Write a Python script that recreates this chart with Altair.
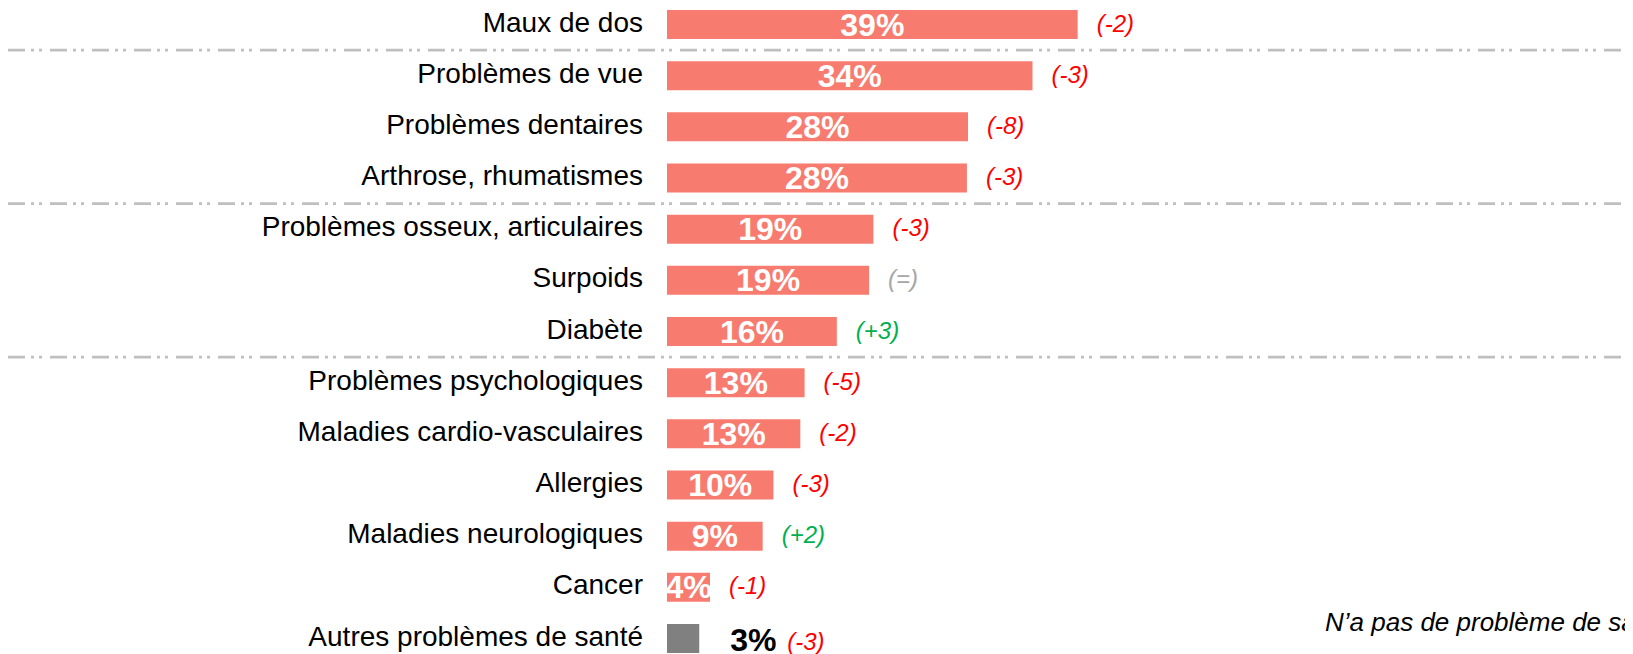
import altair as alt
import pandas as pd

categories = [
    "Maux de dos", "Problèmes de vue", "Problèmes dentaires", "Arthrose, rhumatismes",
    "Problèmes osseux, articulaires", "Surpoids", "Diabète", "Problèmes psychologiques",
    "Maladies cardio-vasculaires", "Allergies", "Maladies neurologiques", "Cancer",
    "Autres problèmes de santé",
]
values = [38.2, 34.0, 28.0, 27.9, 19.2, 18.8, 15.8, 12.8, 12.4, 9.9, 8.9, 4.0, 3.0]
pct_labels = ["39%", "34%", "28%", "28%", "19%", "19%", "16%", "13%", "13%", "10%", "9%", "4%", "3%"]
deltas = ["(-2)", "(-3)", "(-8)", "(-3)", "(-3)", "(=)", "(+3)", "(-5)", "(-2)", "(-3)", "(+2)", "(-1)", "(-3)"]
separator_after = [0, 3, 6]
note_text = ["N\u2019a pas de problème de santé"]

W, H = 1617, 646
FONT = "Liberation Sans"
HALF = 0.2834
PX = 10.75          # pixels per percentage point
X0 = 659            # pixel position of 0 %

def delta_kind(d):
    if "+" in d:
        return "up"
    if "-" in d:
        return "down"
    return "same"

df = pd.DataFrame({
    "cat": categories,
    "value": values,
    "pct": pct_labels,
    "delta": deltas,
})
df["row"] = range(len(df))
df["y0"] = df["row"] - HALF
df["y1"] = df["row"] + HALF
df["zero"] = 0.0
df["half"] = df["value"] / 2
df["kind"] = [delta_kind(d) for d in deltas]
df["group"] = ["main"] * (len(df) - 1) + ["other"]

main = df[df["group"] == "main"]
other = df[df["group"] == "other"]

sep = pd.DataFrame({"pos": [s + 0.5 for s in separator_after]})
note = pd.DataFrame({"t": note_text})

xs = alt.Scale(domain=[-X0 / PX, (W - X0) / PX], range=[0, W])
ys = alt.Scale(domain=[-0.3225, -0.3225 + H / 51.17], range=[0, H])

X = lambda f: alt.X(f, scale=xs, axis=None)
Y = lambda f: alt.Y(f, scale=ys, axis=None)

bars = alt.Chart(df).mark_rect().encode(
    x=X("zero:Q"), x2="value:Q", y=Y("y0:Q"), y2="y1:Q",
    color=alt.Color("group:N", scale=alt.Scale(domain=["main", "other"], range=["#F87B6F", "#808080"]), legend=None),
)

seps = alt.Chart(sep).mark_rule(color="#BFBFBF", strokeWidth=2.6, strokeDash=[17, 6, 3, 5, 3, 8]).encode(
    y=Y("pos:Q"), x=alt.value(0), x2=alt.value(W),
)

cat_text = alt.Chart(df).mark_text(align="right", baseline="middle", font=FONT, fontSize=28, color="#000000", dy=-1).encode(
    y=Y("row:Q"), x=alt.value(635), text="cat:N",
)

pct_in = alt.Chart(main).mark_text(align="center", baseline="middle", font=FONT, fontSize=32, fontWeight="bold", color="#FFFFFF", dy=1).encode(
    y=Y("row:Q"), x=X("half:Q"), text="pct:N",
)

pct_out = alt.Chart(other).mark_text(align="left", baseline="middle", font=FONT, fontSize=32, fontWeight="bold", color="#000000", dx=31, dy=2).encode(
    y=Y("row:Q"), x=X("value:Q"), text="pct:N",
)

dcol = alt.Color("kind:N", scale=alt.Scale(domain=["down", "up", "same"], range=["#FF0000", "#00B050", "#A6A6A6"]), legend=None)

delta_main = alt.Chart(main).mark_text(align="left", baseline="middle", font=FONT, fontSize=24, fontStyle="italic", dx=19).encode(
    y=Y("row:Q"), x=X("value:Q"), text="delta:N", color=dcol,
)

delta_other = alt.Chart(other).mark_text(align="left", baseline="middle", font=FONT, fontSize=24, fontStyle="italic", dx=88, dy=4).encode(
    y=Y("row:Q"), x=X("value:Q"), text="delta:N", color=dcol,
)

note_mark = alt.Chart(note).mark_text(align="left", baseline="middle", font=FONT, fontSize=26, fontStyle="italic", color="#000000").encode(
    x=alt.value(1317), y=alt.value(615), text="t:N",
)

chart = alt.layer(seps, bars, cat_text, pct_in, pct_out, delta_main, delta_other, note_mark).resolve_scale(
    color="independent"
).properties(
    width=W, height=H, padding=0, autosize=alt.AutoSizeParams(type="none"),
).configure_view(stroke=None)

chart.save("out.html", embed_options={"renderer": "svg", "actions": False})
